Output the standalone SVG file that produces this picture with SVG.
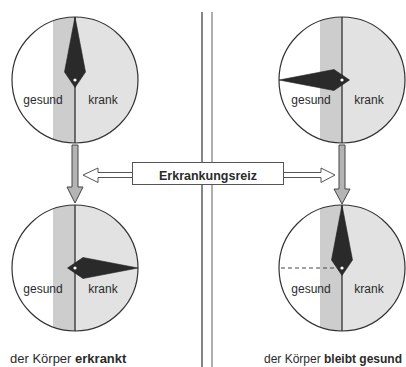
<svg xmlns="http://www.w3.org/2000/svg" width="406" height="367" viewBox="0 0 406 367">
  <defs>
    <style>
      .lbl { font-family: "Liberation Sans", Arial, sans-serif; font-size: 12px; fill: #2b2b2b; text-anchor: middle; }
      .cap { font-family: "Liberation Sans", Arial, sans-serif; fill: #2b2b2b; }
      .cap tspan.b { font-weight: bold; }
      .title { font-family: "Liberation Sans", Arial, sans-serif; font-size: 12.5px; font-weight: bold; fill: #2b2b2b; text-anchor: middle; }
      .rim { fill: none; stroke: #333; stroke-width: 1.2; }
      .axis { stroke: #222; stroke-width: 1.2; }
      .needle { fill: #2a2a2a; stroke: #222; stroke-width: 0.6; stroke-linejoin: round; }
      .pivot { fill: #fff; }
      .down { fill: #b4b4b4; stroke: #444; stroke-width: 1; stroke-linejoin: miter; }
      .hollow { fill: #fff; stroke: #555; stroke-width: 1; stroke-linejoin: miter; }
    </style>
    <!-- dial face: white "gesund" side, grey band, light "krank" side -->
    <g id="dial">
      <circle cx="0" cy="0" r="63" fill="#fff"/>
      <path d="M -22,-59.03 A 63 63 0 0 1 0,-63 L 0,63 A 63 63 0 0 1 -22,59.03 Z" fill="#cdcdcd"/>
      <path d="M 0,-63 A 63 63 0 0 1 0,63 Z" fill="#e2e2e2"/>
      <line class="axis" x1="0" y1="-63" x2="0" y2="63"/>
      <circle class="rim" cx="0" cy="0" r="63"/>
    </g>
    <!-- pointer, drawn pointing up from the pivot -->
    <g id="needle">
      <polygon class="needle" points="0,-63 10.5,-8 0,7.5 -10.5,-8"/>
      <circle class="pivot" cx="0" cy="0" r="1.6"/>
    </g>
  </defs>

  <!-- divider between the two outcomes -->
  <g id="divider">
    <line x1="202" y1="12" x2="202" y2="367" stroke="#222" stroke-width="1.1"/>
    <line x1="212" y1="12" x2="212" y2="367" stroke="#9a9a9a" stroke-width="1.6"/>
  </g>

  <g id="connectors">
    <!-- grey arrows from the initial to the resulting state -->
    <polygon class="down" points="72,145 78,145 78,187 83,187 75,203 67,187 72,187 72,145"/>
    <polygon class="down" points="339,145 345,145 345,189 350,189 342,204 334,189 339,189 339,145"/>
    <!-- hollow arrows from the stimulus box -->
    <polygon class="hollow" points="132.5,172.5 98,172.5 98,168 83,175 98,182.5 98,177.5 132.5,177.5"/>
    <polygon class="hollow" points="283.5,172.5 321,172.5 321,168 335,175 321,182.5 321,177.5 283.5,177.5"/>
  </g>

  <g id="stimulus">
    <rect x="132.5" y="162.5" width="151" height="22" fill="#fff" stroke="#555" stroke-width="1"/>
    <text class="title" x="208" y="180">Erkrankungsreiz</text>
  </g>

  <g id="dial-left-before" transform="translate(75,80)">
    <use href="#dial"/>
    <use href="#needle"/>
    <text class="lbl" x="-32" y="24">gesund</text>
    <text class="lbl" x="28" y="24">krank</text>
  </g>

  <g id="dial-right-before" transform="translate(342,80)">
    <use href="#dial"/>
    <use href="#needle" transform="rotate(-90)"/>
    <text class="lbl" x="-31" y="24">gesund</text>
    <text class="lbl" x="27" y="24">krank</text>
  </g>

  <g id="dial-left-after" transform="translate(75,268)">
    <use href="#dial"/>
    <use href="#needle" transform="rotate(90)"/>
    <text class="lbl" x="-32" y="25">gesund</text>
    <text class="lbl" x="28" y="25">krank</text>
  </g>

  <g id="dial-right-after" transform="translate(342,268)">
    <use href="#dial"/>
    <line x1="-61" y1="0" x2="0" y2="0" stroke="#444" stroke-width="1" stroke-dasharray="4,3"/>
    <use href="#needle"/>
    <text class="lbl" x="-31" y="25">gesund</text>
    <text class="lbl" x="27" y="25">krank</text>
  </g>

  <g id="caption-left">
    <text class="cap" x="10" y="363" font-size="13">der Körper <tspan class="b">erkrankt</tspan></text>
  </g>
  <g id="caption-right">
    <text class="cap" x="264" y="363" font-size="12">der Körper <tspan class="b">bleibt gesund</tspan></text>
  </g>
</svg>
